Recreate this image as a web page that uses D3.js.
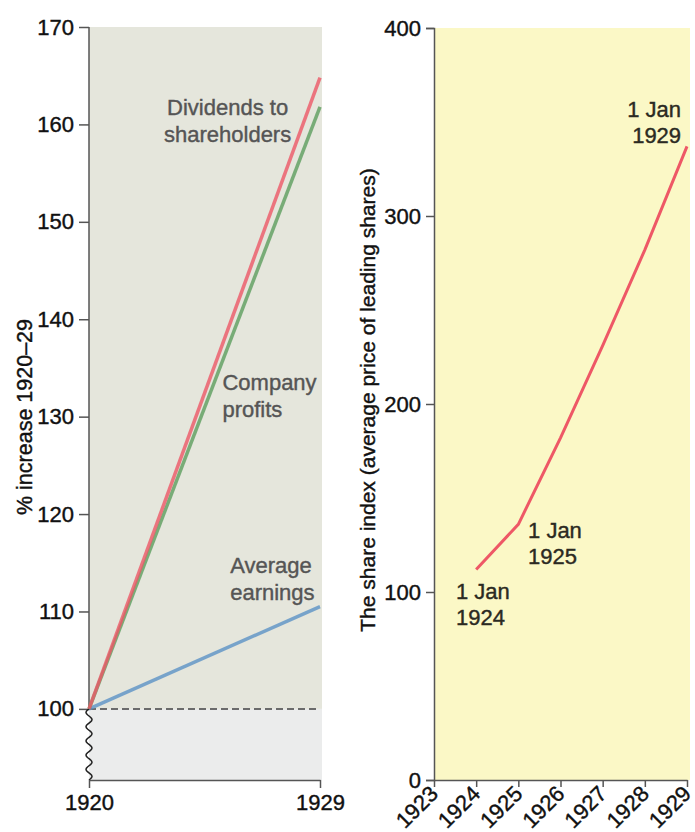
<!DOCTYPE html>
<html>
<head>
<meta charset="utf-8">
<script src="https://cdn.jsdelivr.net/npm/d3@7"></script>
<style>
  body { margin: 0; background: #fff; }
  svg text { font-family: 'Liberation Sans', Arial, sans-serif; }
  .axis text { font-size: 22px; fill: #111; stroke: #111; stroke-width: 0.4; }
  .axis line, .axis path { stroke: #555; stroke-width: 1.5; }
  .lbl { stroke-width: 0.4; }
</style>
</head>
<body>
<div id="chart"></div>
<script>
// left chart data: % increase 1920-29
var years_left = [1920, 1929];
var dividends = [100, 164.8];
var profits = [100, 161.8];
var earnings = [100, 110.5];
var ticks_left = [100, 110, 120, 130, 140, 150, 160, 170];

// right chart data: share index
var years_right = [1924, 1925, 1926, 1927, 1928, 1929];
var share_index = [112, 136, 182, 231, 282, 337];
var ticks_right = [0, 100, 200, 300, 400];
var years_axis = [1923, 1924, 1925, 1926, 1927, 1928, 1929];

// labels sit at data coords
var labels_left = [
    {lines: ["Dividends to", "shareholders"], year: 1925.4, value: 161.0, anchor: "middle"},
    {lines: ["Company", "profits"], year: 1925.2, value: 132.7, anchor: "start"},
    {lines: ["Average", "earnings"], year: 1925.5, value: 114.0, anchor: "start"}
];
var labels_right = [
    {lines: ["1 Jan", "1924"], year: 1923.52, value: 96.3, anchor: "start"},
    {lines: ["1 Jan", "1925"], year: 1925.23, value: 128.7, anchor: "start"},
    {lines: ["1 Jan", "1929"], year: 1928.86, value: 352.7, anchor: "end"}
];

var svg = d3.select("#chart")
    .append("svg")
    .attr("width", 695)
    .attr("height", 832);

//#region left chart
var x_l = d3.scaleLinear().domain([1920, 1929]).range([89, 320]);
var y_l = d3.scaleLinear().domain([92.7, 170]).range([780, 27]);

// backgrounds
svg.append("rect")
    .attr("x", x_l(1920)).attr("y", y_l(170))
    .attr("width", x_l(1929) - x_l(1920) + 2)
    .attr("height", y_l(100) - y_l(170))
    .attr("fill", "#e5e6dc");
svg.append("rect")
    .attr("x", x_l(1920)).attr("y", y_l(100))
    .attr("width", x_l(1929) - x_l(1920) + 2)
    .attr("height", y_l(92.7) - y_l(100))
    .attr("fill", "#ebecec");

// dashed line at 100
svg.append("line")
    .attr("x1", x_l(1920)).attr("x2", x_l(1929))
    .attr("y1", y_l(100)).attr("y2", y_l(100))
    .attr("stroke", "#6b6b6b")
    .attr("stroke-width", 2)
    .attr("stroke-dasharray", "7,4");

// y axis (no domain, drawn by hand because of the break)
var yAxisL = svg.append("g")
    .attr("class", "axis")
    .attr("transform", "translate(" + x_l(1920) + ",0)")
    .call(d3.axisLeft(y_l).tickValues(ticks_left).tickSize(10).tickPadding(5));
yAxisL.select(".domain").remove();

svg.append("line")
    .attr("x1", x_l(1920)).attr("x2", x_l(1920))
    .attr("y1", y_l(170)).attr("y2", y_l(100))
    .attr("stroke", "#555").attr("stroke-width", 1.5);

// wavy break below 100
var wave = [];
var w0 = y_l(100), w1 = y_l(92.7);
for (var k = 0; k <= 60; k++) {
    var yy = w0 + (w1 - w0) * k / 60;
    wave.push([x_l(1920) - 3 * Math.sin(k / 60 * Math.PI * 2 * 5), yy]);
}
svg.append("path")
    .attr("d", d3.line()(wave))
    .attr("fill", "none")
    .attr("stroke", "#222")
    .attr("stroke-width", 1.5);

// x axis
svg.append("g")
    .attr("class", "axis")
    .attr("transform", "translate(0," + y_l(92.7) + ")")
    .call(d3.axisBottom(x_l).tickValues(years_left).tickFormat(d3.format("d")).tickSize(8).tickPadding(6).tickSizeOuter(0));

svg.append("text")
    .attr("transform", "translate(32," + 417 + ") rotate(-90)")
    .attr("text-anchor", "middle")
    .style("font-size", "21.5px")
    .attr("fill", "#111")
    .attr("stroke", "#111").attr("class", "lbl")
    .text("% increase 1920\u201329");

// lines
var lineL = d3.line()
    .x(function (d, i) { return x_l(years_left[i]); })
    .y(function (d) { return y_l(d); });

var series_left = [
    {values: earnings, color: "#5b92c6"},
    {values: profits, color: "#5c9e5e"},
    {values: dividends, color: "#ec5866"}
];
series_left.forEach(function (s) {
    svg.append("path")
        .datum(s.values)
        .attr("d", lineL)
        .attr("fill", "none")
        .attr("stroke", s.color)
        .attr("stroke-width", 3.5)
        .attr("opacity", 0.8);
});

labels_left.forEach(function (l) {
    var t = svg.append("text")
        .attr("x", x_l(l.year))
        .attr("y", y_l(l.value))
        .attr("text-anchor", l.anchor)
        .attr("fill", "#555")
        .attr("stroke", "#555").attr("class", "lbl")
        .style("font-size", "22px");
    l.lines.forEach(function (s, i) {
        t.append("tspan").attr("x", x_l(l.year)).attr("dy", i == 0 ? 0 : 27).text(s);
    });
});
//#endregion

//#region right chart
var x_r = d3.scaleLinear().domain([1923, 1929]).range([434, 687]);
var y_r = d3.scaleLinear().domain([0, 400]).range([780, 28]);

svg.append("rect")
    .attr("x", x_r(1923)).attr("y", y_r(400))
    .attr("width", x_r(1929) - x_r(1923) + 3)
    .attr("height", y_r(0) - y_r(400))
    .attr("fill", "#fbf8c6");

svg.append("g")
    .attr("class", "axis")
    .attr("transform", "translate(" + x_r(1923) + ",0)")
    .call(d3.axisLeft(y_r).tickValues(ticks_right).tickSize(8).tickPadding(5).tickSizeOuter(8));

var xAxisR = svg.append("g")
    .attr("class", "axis")
    .attr("transform", "translate(0," + y_r(0) + ")")
    .call(d3.axisBottom(x_r).tickValues(years_axis).tickFormat(d3.format("d")).tickSize(7).tickSizeOuter(0));

xAxisR.selectAll("text")
    .attr("text-anchor", "end")
    .attr("dy", null)
    .attr("y", null)
    .attr("transform", "translate(5,15) rotate(-45)");

svg.append("text")
    .attr("transform", "translate(375,400) rotate(-90)")
    .attr("text-anchor", "middle")
    .style("font-size", "21px")
    .attr("fill", "#111")
    .attr("stroke", "#111").attr("class", "lbl")
    .text("The share index (average price of leading shares)");

svg.append("path")
    .datum(share_index)
    .attr("d", d3.line()
        .x(function (d, i) { return x_r(years_right[i]); })
        .y(function (d) { return y_r(d); })
    )
    .attr("fill", "none")
    .attr("stroke", "#ee5866")
    .attr("stroke-width", 3);

labels_right.forEach(function (l) {
    var t = svg.append("text")
        .attr("x", x_r(l.year))
        .attr("y", y_r(l.value))
        .attr("text-anchor", l.anchor)
        .attr("fill", "#2b2a22")
        .attr("stroke", "#2b2a22").attr("class", "lbl")
        .style("font-size", "22px");
    l.lines.forEach(function (s, i) {
        t.append("tspan").attr("x", x_r(l.year)).attr("dy", i == 0 ? 0 : 26).text(s);
    });
});
//#endregion
</script>
</body>
</html>
